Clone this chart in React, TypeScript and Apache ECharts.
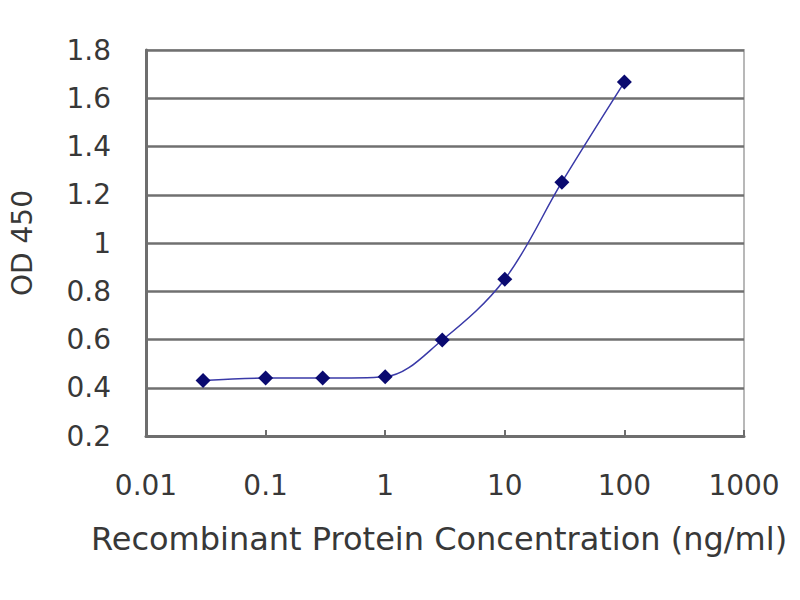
import React, { useEffect, useRef } from "react";
import * as echarts from "echarts";

const concentrations = [0.03, 0.1, 0.3, 1, 3, 10, 30, 100];
const odValues = [0.43, 0.44, 0.44, 0.446, 0.598, 0.85, 1.252, 1.667];
const xTickLabels = ["0.01", "0.1", "1", "10", "100", "1000"];

export default function App() {
  const ref = useRef<HTMLDivElement>(null);
  useEffect(() => {
    if (!ref.current) return;
    const chart = echarts.init(ref.current, null, { renderer: "svg" });
    const font = "'DejaVu Sans', 'Liberation Sans', Arial, sans-serif";
    chart.setOption({
      animation: false,
      backgroundColor: "#ffffff",
      grid: {
        left: 145,
        right: 56,
        top: 50,
        bottom: 164,
        show: true,
        borderColor: "#b8b8b8",
        borderWidth: 2,
      },
      xAxis: {
        type: "log",
        logBase: 10,
        min: 0.01,
        max: 1000,
        name: "Recombinant Protein Concentration (ng/ml)",
        nameLocation: "middle",
        nameGap: 87,
        nameTextStyle: { fontFamily: font, fontSize: 32, color: "#383838", padding: [0, 12, 0, 0] },
        axisLine: { show: true, lineStyle: { color: "#6e6e6e", width: 3 } },
        axisTick: { show: true, inside: true, length: 6, lineStyle: { color: "#6e6e6e", width: 2 } },
        minorTick: { show: false },
        splitLine: { show: false },
        axisLabel: {
          margin: 35,
          fontFamily: font,
          fontSize: 28,
          color: "#383838",
          formatter: (v: number) => {
            const idx = Math.round(Math.log10(v)) + 2;
            return xTickLabels[idx] ?? String(v);
          },
        },
      },
      yAxis: {
        type: "value",
        min: 0.2,
        max: 1.8,
        interval: 0.2,
        name: "OD 450",
        nameLocation: "middle",
        nameRotate: 90,
        nameGap: 110,
        nameTextStyle: { fontFamily: font, fontSize: 28, color: "#383838" },
        axisLine: { show: true, lineStyle: { color: "#6e6e6e", width: 3 } },
        axisTick: { show: false },
        splitLine: { show: true, lineStyle: { color: "#707070", width: 2.5 } },
        axisLabel: {
          margin: 35,
          fontFamily: font,
          fontSize: 28,
          color: "#383838",
          formatter: (v: number) => String(Math.round(v * 10) / 10),
        },
      },
      series: [
        {
          type: "line",
          data: concentrations.map((c, i) => [c, odValues[i]]),
          smooth: 0.35,
          symbol: "diamond",
          symbolSize: 15,
          itemStyle: { color: "#0a0a70" },
          lineStyle: { color: "#3a3aa8", width: 1.5 },
        },
      ],
    });
    return () => chart.dispose();
  }, []);
  return (
    <div
      ref={ref}
      style={{ position: "fixed", left: 0, top: 0, width: 800, height: 600, background: "#fff" }}
    />
  );
}
